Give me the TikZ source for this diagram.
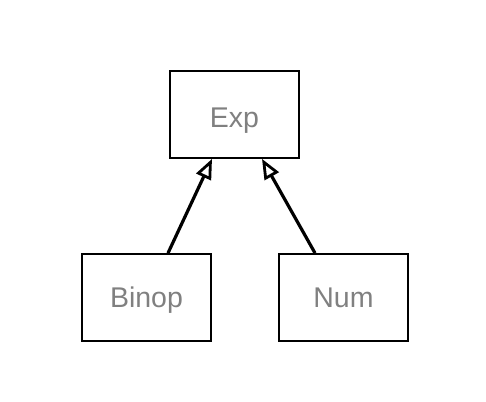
\documentclass[tikz,border=0pt]{standalone}
\usepackage{fontspec}
\setmainfont{Liberation Sans}
\usetikzlibrary{arrows.meta}
\begin{document}
\begin{tikzpicture}[x=1pt,y=-1pt,
  cls/.style={draw=black, line width=1.8pt, minimum width=129pt, minimum height=87pt,
    inner sep=0pt, text height=20.5pt, text depth=0pt, text=black!50, font=\fontsize{28.5}{30}\selectfont},
  inh/.style={line width=3.2pt, -{Triangle[open, length=20pt, width=16pt, line width=2.8pt]}}]
\useasboundingbox (0,0) rectangle (486,401);
\node[cls] (exp) at (234.5,114.5) {\raisebox{-3pt}{Exp}};
\node[cls] (binop) at (146.5,297.5) {Binop};
\node[cls] (num) at (343.5,297.5) {Num};
\draw[inh] ([xshift=21.5pt]binop.north) -- ([xshift=-22.5pt]exp.south);
\draw[inh] ([xshift=-28.5pt]num.north) -- ([xshift=27.5pt]exp.south);
\end{tikzpicture}
\end{document}
